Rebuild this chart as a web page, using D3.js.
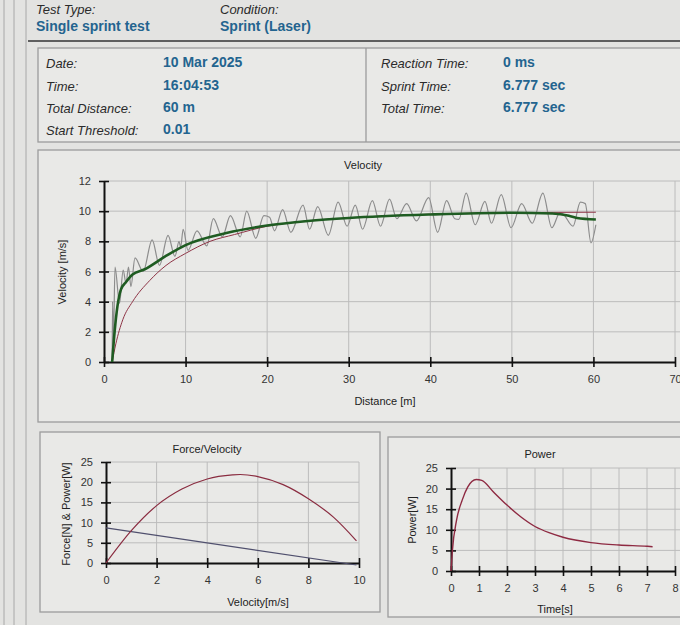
<!DOCTYPE html>
<html>
<head>
    <title>Single sprint test</title>
    <script src="https://d3js.org/d3.v7.min.js"></script>
    <style>
        body {
            margin: 0;
            background-color: #e3e3e1;
            font-family: Arial, "Liberation Sans", sans-serif;
        }
        svg { display: block; }
        .lbl { font-style: italic; font-size: 13px; fill: #2b2b2b; }
        .val { font-weight: bold; font-size: 14px; fill: #23648f; }
        .tick text { font-size: 11px; fill: #333; font-family: Arial, "Liberation Sans", sans-serif; }
        .title { font-size: 11px; fill: #222; }
        .grid line { stroke: #bcbcbc; stroke-width: 1px; }
    </style>
</head>
<body>
<svg width="680" height="625"></svg>
<script>
// header info
var headerLabels = ["Test Type:", "Condition:"];
var headerValues = ["Single sprint test", "Sprint (Laser)"];
var infoLeftLabels = ["Date:", "Time:", "Total Distance:", "Start Threshold:"];
var infoLeftValues = ["10 Mar 2025", "16:04:53", "60 m", "0.01"];
var infoRightLabels = ["Reaction Time:", "Sprint Time:", "Total Time:"];
var infoRightValues = ["0 ms", "6.777 sec", "6.777 sec"];

// velocity vs distance - raw (gray)
var rawDist = [1.0, 1.05, 1.15, 1.35, 1.9, 2.35, 2.7, 3.0, 3.3, 3.8, 4.8, 5.9, 6.8, 7.85, 8.7, 9.2, 9.4, 9.7,
    10.3, 11.4, 12.6, 13.4, 14.5, 15.5, 16.7, 17.5, 18.6, 19.6, 20.3, 20.9, 21.9, 22.9, 24.4, 25.2, 26.2,
    27.5, 28.7, 29.8, 30.8, 31.7, 32.9, 33.9, 35.0, 35.9, 37.1, 38.3, 39.8, 40.9, 42.0, 43.0, 43.5, 44.4,
    45.5, 46.7, 47.5, 48.7, 49.9, 51.2, 52.5, 53.8, 54.9, 55.9, 56.3, 57.5, 58.4, 59.0, 59.7, 60.3];
var rawVel = [0, 4.0, 1.2, 6.3, 3.9, 6.1, 5.2, 6.3, 5.0, 6.9, 6.0, 8.1, 6.4, 8.4, 7.0, 8.0, 7.6, 8.8,
    7.4, 8.7, 7.7, 9.5, 8.3, 9.7, 8.3, 10.0, 8.2, 9.7, 9.6, 8.7, 10.1, 8.6, 10.4, 8.8, 10.3,
    8.4, 10.6, 9.0, 10.4, 8.8, 10.7, 9.0, 10.8, 9.5, 10.5, 9.35, 10.9, 8.6, 10.7, 9.5, 9.45, 11.2,
    9.1, 10.65, 9.2, 11.1, 8.9, 10.5, 9.2, 11.2, 8.9, 9.9, 9.8, 9.0, 10.6, 10.5, 7.9, 9.1];

// smoothed (green)
var smoothDist = [1.0, 1.3, 1.65, 2.07, 2.7, 3.5, 5, 7.5, 10, 15, 20, 25, 30, 40, 50, 55, 57, 58, 60.3];
var smoothVel = [0, 2.0, 3.7, 4.8, 5.3, 5.8, 6.15, 7.0, 7.75, 8.55, 9.05, 9.35, 9.55, 9.78, 9.9, 9.85, 9.7, 9.55, 9.45];

// model (maroon)
var modelDist = [1.0, 1.45, 2.3, 3.5, 5.6, 7.6, 10, 13, 16, 20, 24, 30, 40, 50, 60.3];
var modelVel = [0, 1.2, 2.8, 4.0, 5.4, 6.4, 7.2, 8.0, 8.45, 9.0, 9.3, 9.55, 9.8, 9.9, 9.93];

// force / velocity
var fvVel = [0, 1, 2, 3, 4, 5, 5.3, 6, 7, 8, 9, 9.9];
var fvPower = [0, 8.0, 14.2, 18.3, 20.8, 21.8, 21.9, 21.4, 19.4, 15.9, 11.3, 5.5];
var forceVel = [0, 9.9];
var forceVal = [8.7, -0.5];

// power vs time
var powTime = [0, 0.05, 0.2, 0.4, 0.6, 0.9, 1.1, 1.5, 2, 2.5, 3, 3.5, 4, 5, 6, 7, 7.2];
var powVal = [0, 5, 12.4, 17.2, 20.4, 22.2, 22.0, 19.3, 16.0, 13.1, 10.8, 9.3, 8.2, 6.9, 6.3, 6.0, 5.9];

var svg = d3.select("svg");

// window frame lines on the left
[4, 14, 26].forEach(function(x) {
    svg.append("line").attr("x1", x).attr("x2", x).attr("y1", 0).attr("y2", 625)
        .attr("stroke", "#a8a8a8").attr("stroke-width", 1);
});

// header
var hx = [36, 220];
headerLabels.forEach(function(t, i) {
    svg.append("text").attr("class", "lbl").attr("x", hx[i]).attr("y", 14).text(t);
    svg.append("text").attr("class", "val").attr("x", hx[i]).attr("y", 31).text(headerValues[i]);
});
svg.append("line").attr("x1", 28).attr("x2", 680).attr("y1", 41).attr("y2", 41)
    .attr("stroke", "#333").attr("stroke-width", 1.5);

// panels
function panel(x, y, w, h) {
    svg.append("rect").attr("x", x).attr("y", y).attr("width", w).attr("height", h)
        .attr("fill", "#e9e9e7").attr("stroke", "#9c9c9c").attr("stroke-width", 1.3);
}
panel(38, 48, 660, 94);
svg.append("line").attr("x1", 366).attr("x2", 366).attr("y1", 48).attr("y2", 142)
    .attr("stroke", "#9c9c9c").attr("stroke-width", 1.3);

var rowY = [68, 91, 113, 135];
infoLeftLabels.forEach(function(t, i) {
    svg.append("text").attr("class", "lbl").attr("x", 46).attr("y", rowY[i]).text(t);
    svg.append("text").attr("class", "val").attr("x", 163).attr("y", rowY[i] - 1).text(infoLeftValues[i]);
});
infoRightLabels.forEach(function(t, i) {
    svg.append("text").attr("class", "lbl").attr("x", 381).attr("y", rowY[i]).text(t);
    svg.append("text").attr("class", "val").attr("x", 503).attr("y", rowY[i] - 1).text(infoRightValues[i]);
});

panel(38, 150, 660, 272);
panel(40, 432, 340, 180);
panel(388, 437, 310, 180);

// generic chart
function chart(o) {
    var x = d3.scaleLinear().domain(o.xDomain).range(o.xRange);
    var y = d3.scaleLinear().domain(o.yDomain).range(o.yRange);
    var g = svg.append("g");
    var gridRight = o.gridRight || o.xRange[1];

    var grid = g.append("g").attr("class", "grid");
    grid.selectAll(".gx").data(o.xTicks.slice(1)).enter().append("line")
        .attr("x1", function(d) { return x(d); }).attr("x2", function(d) { return x(d); })
        .attr("y1", o.yRange[0]).attr("y2", o.yRange[1]);
    grid.selectAll(".gy").data(o.yTicks.slice(1)).enter().append("line")
        .attr("x1", o.xRange[0]).attr("x2", gridRight)
        .attr("y1", function(d) { return y(d); }).attr("y2", function(d) { return y(d); });

    var xAxis = g.append("g").attr("transform", "translate(0," + o.yRange[0] + ")")
        .call(d3.axisBottom(x).tickValues(o.xTicks).tickSize(5).tickSizeOuter(0).tickPadding(8));
    xAxis.selectAll(".tick line").attr("y1", -5).attr("y2", 5);
    var yAxis = g.append("g").attr("transform", "translate(" + o.xRange[0] + ",0)")
        .call(d3.axisLeft(y).tickValues(o.yTicks).tickSize(5).tickSizeOuter(0).tickPadding(8));
    yAxis.selectAll(".tick line").attr("x1", -5).attr("x2", 5);
    g.selectAll(".domain").attr("stroke", "#111").attr("stroke-width", 2);
    g.selectAll(".tick line").attr("stroke", "#111").attr("stroke-width", 1.6);
    g.selectAll(".tick text").attr("fill", "#333");

    g.append("text").attr("class", "title").attr("text-anchor", "middle")
        .attr("x", o.titleX).attr("y", o.titleY).text(o.title);
    g.append("text").attr("class", "title").attr("text-anchor", "middle")
        .attr("x", o.xLabelX).attr("y", o.xLabelY).text(o.xLabel);
    g.append("text").attr("class", "title").attr("text-anchor", "middle")
        .attr("transform", "translate(" + o.yLabelX + "," + o.yLabelY + ") rotate(-90)")
        .text(o.yLabel);

    o.series.forEach(function(s) {
        var pts = s.xs.map(function(v, i) { return [v, s.ys[i]]; });
        g.append("path").datum(pts)
            .attr("fill", "none").attr("stroke", s.color).attr("stroke-width", s.width)
            .attr("stroke-linejoin", "round")
            .attr("d", d3.line().curve(s.curve || d3.curveMonotoneX)
                .x(function(d) { return x(d[0]); }).y(function(d) { return y(d[1]); }));
    });
}

chart({
    xDomain: [0, 70], xRange: [104, 675], yDomain: [0, 12], yRange: [362, 181], gridRight: 680,
    xTicks: [0, 10, 20, 30, 40, 50, 60, 70], yTicks: [0, 2, 4, 6, 8, 10, 12],
    title: "Velocity", titleX: 363, titleY: 169,
    xLabel: "Distance [m]", xLabelX: 385, xLabelY: 405,
    yLabel: "Velocity [m/s]", yLabelX: 66, yLabelY: 272,
    series: [
        { xs: rawDist, ys: rawVel, color: "#8c8c8c", width: 1.2 },
        { xs: modelDist, ys: modelVel, color: "#8e3446", width: 1 },
        { xs: smoothDist, ys: smoothVel, color: "#1f5c22", width: 2.6 }
    ]
});

chart({
    xDomain: [0, 10], xRange: [106, 359], yDomain: [0, 25], yRange: [563, 462],
    xTicks: [0, 2, 4, 6, 8, 10], yTicks: [0, 5, 10, 15, 20, 25],
    title: "Force/Velocity", titleX: 207, titleY: 453,
    xLabel: "Velocity[m/s]", xLabelX: 258, xLabelY: 606,
    yLabel: "Force[N] & Power[W]", yLabelX: 70, yLabelY: 514,
    series: [
        { xs: forceVel, ys: forceVal, color: "#50506e", width: 1.2, curve: d3.curveLinear },
        { xs: fvVel, ys: fvPower, color: "#8a2c40", width: 1.2 }
    ]
});

chart({
    xDomain: [0, 8], xRange: [451, 675], yDomain: [0, 25], yRange: [571, 468], gridRight: 680,
    xTicks: [0, 1, 2, 3, 4, 5, 6, 7, 8], yTicks: [0, 5, 10, 15, 20, 25],
    title: "Power", titleX: 540, titleY: 458,
    xLabel: "Time[s]", xLabelX: 555, xLabelY: 613,
    yLabel: "Power[W]", yLabelX: 416, yLabelY: 520,
    series: [
        { xs: powTime, ys: powVal, color: "#8e2a42", width: 1.4 }
    ]
});
</script>
</body>
</html>
